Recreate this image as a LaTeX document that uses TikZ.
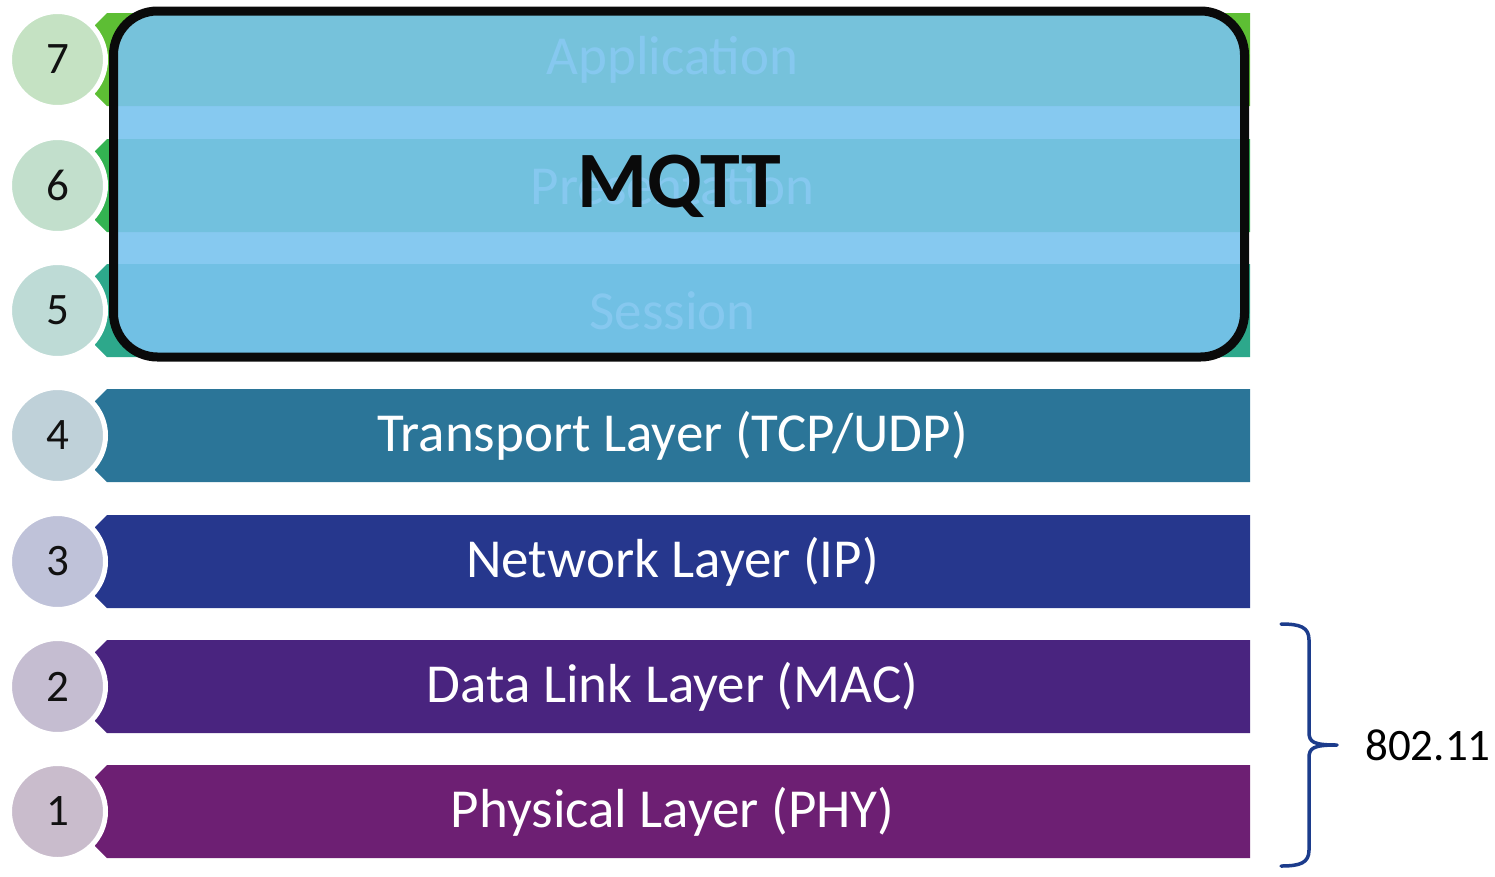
\documentclass[tikz,border=0pt]{standalone}
\usepackage{fontspec}
\setmainfont{Carlito}
\definecolor{bar7}{HTML}{5DBE34}
\definecolor{bar6}{HTML}{33B351}
\definecolor{bar5}{HTML}{2DA88B}
\definecolor{bar4}{HTML}{2B7598}
\definecolor{bar3}{HTML}{26378D}
\definecolor{bar2}{HTML}{49247F}
\definecolor{bar1}{HTML}{6D1F73}
\definecolor{circ7}{HTML}{C5E2C3}
\definecolor{circ6}{HTML}{C2DFCC}
\definecolor{circ5}{HTML}{BEDBD6}
\definecolor{circ4}{HTML}{BFD1D9}
\definecolor{circ3}{HTML}{BFC2D9}
\definecolor{circ2}{HTML}{C5BDD1}
\definecolor{circ1}{HTML}{C9BCCC}
\definecolor{mqttblue}{RGB}{121,195,238}
\definecolor{bracecol}{HTML}{1C3C8C}
\definecolor{numcol}{HTML}{111111}
\begin{document}
\begin{tikzpicture}[x=1pt,y=-1pt,
  layertext/.style={text=white,font=\fontsize{55}{60}\selectfont,inner sep=0pt},
  numcirc/.style={circle,draw=white,line width=5pt,minimum size=96pt,inner sep=0pt,
    font=\fontsize{45}{50}\selectfont,text=numcol},
  mqttbox/.style={draw=black!96,line width=9pt,rounded corners=44pt,fill=mqttblue,
    fill opacity=0.9,minimum width=1131pt,minimum height=346pt,inner sep=0pt},
  bracestyle/.style={draw=bracecol,line width=3.5pt,line cap=round,line join=round}]
\useasboundingbox (0,0) rectangle (1495,876);
% bars: top y, colour
\foreach \t/\c in {13/bar7,139/bar6,264/bar5,389/bar4,515/bar3,640/bar2,765/bar1}{
  \fill[\c] (107,\t) -- (1250,\t) -- (1250,\t+93) -- (107,\t+93) -- (95,\t+81) -- (95,\t+12) -- cycle;
}
% layer labels
\node[layertext] (l7) at (672.5,59.5) {Application};
\node[layertext] (l6) at (672.5,185.5) {Presentation};
\node[layertext] (l5) at (672.5,310.5) {Session};
\node[layertext] (l4) at (672.5,435.5) {Transport Layer (TCP/UDP)};
\node[layertext] (l3) at (672.5,561.5) {Network Layer (IP)};
\node[layertext] (l2) at (672.5,686.5) {Data Link Layer (MAC)};
\node[layertext] (l1) at (672.5,811.5) {Physical Layer (PHY)};
% number circles
\node[numcirc,fill=circ7] (n7) at (57.5,59.5) {7};
\node[numcirc,fill=circ6] (n6) at (57.5,185.5) {6};
\node[numcirc,fill=circ5] (n5) at (57.5,310.5) {5};
\node[numcirc,fill=circ4] (n4) at (57.5,435.5) {4};
\node[numcirc,fill=circ3] (n3) at (57.5,561.5) {3};
\node[numcirc,fill=circ2] (n2) at (57.5,686.5) {2};
\node[numcirc,fill=circ1] (n1) at (57.5,811.5) {1};
% MQTT overlay
\node[mqttbox] (mqtt) at (679,184) {};
\node[font=\fontsize{80}{90}\selectfont\bfseries,text=black!96,inner sep=0pt] (mqttlabel) at (679,186) {MQTT};
% brace
\coordinate (bt) at (1281,624);
\coordinate (tip) at (1337,745);
\coordinate (bb) at (1281,866);
\path[bracestyle] (bt) .. controls (1300,624) and (1309,627) .. (1309,640) -- (1309,732)
  .. controls (1309,742) and (1313,745) .. (tip)
  .. controls (1313,745) and (1309,748) .. (1309,758) -- (1309,850)
  .. controls (1309,863) and (1300,866) .. (bb);
\node[anchor=west,font=\fontsize{45}{50}\selectfont,text=black,inner sep=0pt] (std) at (1365,745) {802.11};
\end{tikzpicture}
\end{document}
